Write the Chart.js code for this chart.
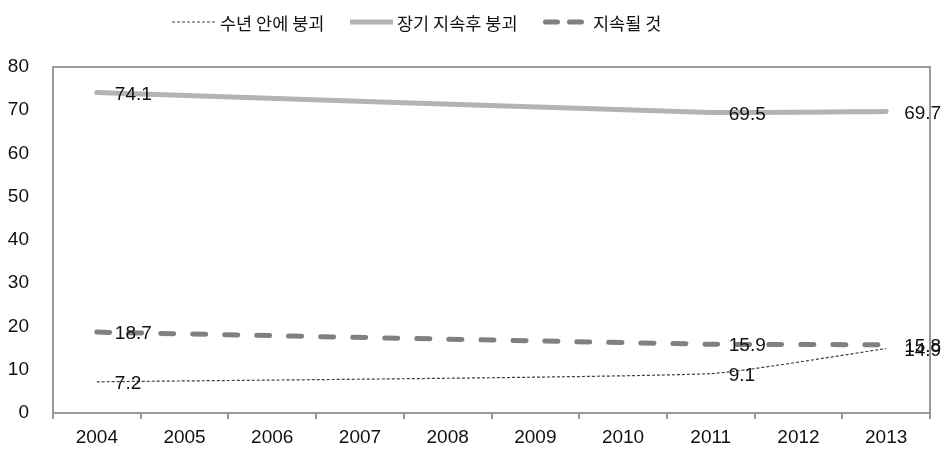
<!DOCTYPE html>
<html>
<head>
<meta charset="utf-8">
<script src="https://cdn.jsdelivr.net/npm/chart.js@4/dist/chart.umd.min.js"></script>
<style>
html,body{margin:0;padding:0;background:#fff;}
#wrap{width:942px;height:450px;position:relative;}
</style>
</head>
<body>
<div id="wrap"><canvas id="c"></canvas></div>
<script>
const years = ['2004','2005','2006','2007','2008','2009','2010','2011','2012','2013'];
const seriesNames = ['수년 안에 붕괴','장기 지속후 붕괴','지속될 것'];
const collapseSoon = [7.2, null, null, null, null, null, null, 9.1, null, 14.9];
const collapseLater = [74.1, null, null, null, null, null, null, 69.5, null, 69.7];
const persist = [18.7, null, null, null, null, null, null, 15.9, null, 15.8];
const yTicks = [0,10,20,30,40,50,60,70,80];

const FONT = "'Liberation Sans Narrow', 'Liberation Sans', Arial, sans-serif";
const KFONT = "'Noto Sans CJK KR', sans-serif";

const frame = {
  id:'frame',
  afterDraw(chart){
    const {ctx, chartArea:a} = chart;
    ctx.save();
    ctx.strokeStyle = '#999';
    ctx.lineWidth = 2;
    ctx.beginPath();
    ctx.moveTo(a.left, a.top); ctx.lineTo(a.right, a.top); ctx.lineTo(a.right, a.bottom);
    ctx.stroke();
    ctx.restore();
  }
};
const valueLabels = {
  id:'valueLabels',
  afterDatasetsDraw(chart){
    const ctx = chart.ctx;
    ctx.save();
    ctx.font = "19px " + FONT;
    ctx.fillStyle = '#111';
    ctx.textAlign = 'left';
    ctx.textBaseline = 'middle';
    chart.data.datasets.forEach((ds, i) => {
      const meta = chart.getDatasetMeta(i);
      meta.data.forEach((pt, j) => {
        const v = ds.data[j];
        if (v === null || v === undefined) return;
        ctx.fillText(v.toFixed(1), pt.x + 18, pt.y + 2);
      });
    });
    ctx.restore();
  }
};
// legend drawn from dataset styles
const legendPos = [{x:172, tx:220}, {x:350, tx:397}, {x:543, tx:593}];
const customLegend = {
  id:'customLegend',
  afterDraw(chart){
    const ctx = chart.ctx;
    const y = 22;
    chart.data.datasets.forEach((ds, i) => {
      const p = legendPos[i];
      ctx.save();
      ctx.strokeStyle = ds.borderColor;
      ctx.lineWidth = ds.borderWidth;
      if (i === 2) { ctx.setLineDash([12,12]); ctx.lineCap = 'round'; }
      else if (i === 0) { ctx.setLineDash([3,2]); }
      ctx.beginPath();
      const x0 = i === 2 ? p.x + 2.5 : p.x;
      const x1 = i === 2 ? p.x + 40 : p.x + 43;
      ctx.moveTo(x0, y); ctx.lineTo(x1, y);
      ctx.stroke();
      ctx.restore();
      ctx.save();
      ctx.font = "17.5px " + KFONT;
      ctx.fillStyle = '#111';
      ctx.textAlign = 'left';
      ctx.textBaseline = 'middle';
      ctx.fillText(ds.label, p.tx, y + 1);
      ctx.restore();
    });
  }
};

new Chart(document.getElementById('c'), {
  type:'line',
  data:{
    labels: years,
    datasets:[
      {label: seriesNames[0], data: collapseSoon, borderColor:'#404040', borderWidth:1.2, borderDash:[3,2], pointRadius:0, spanGaps:true, tension:0.15, fill:false},
      {label: seriesNames[1], data: collapseLater, borderColor:'#b3b3b3', borderWidth:5, borderCapStyle:'round', pointRadius:0, spanGaps:true, tension:0.15, fill:false},
      {label: seriesNames[2], data: persist, borderColor:'#808080', borderWidth:5, borderDash:[13,19], borderCapStyle:'round', pointRadius:0, spanGaps:true, tension:0.15, fill:false}
    ]
  },
  options:{
    responsive:true,
    maintainAspectRatio:false,
    animation:false,
    layout:{padding:{left:0, right:12, top:67, bottom:0}},
    plugins:{
      tooltip:{enabled:false},
      legend:{display:false}
    },
    scales:{
      x:{
        offset:true,
        afterFit(axis){ axis.height = 37; },
        grid:{display:true, drawOnChartArea:false, drawTicks:true, tickLength:6, color:'#999', lineWidth:2, offset:true},
        border:{display:true, color:'#999', width:2},
        ticks:{color:'#111', font:{family:FONT, size:19}, padding:7, maxRotation:0}
      },
      y:{
        min:0, max:80,
        afterBuildTicks(axis){ axis.ticks = yTicks.map(v => ({value:v})); },
        afterFit(axis){ axis.width = 53; },
        grid:{display:false, drawTicks:false},
        border:{display:true, color:'#999', width:2},
        ticks:{color:'#111', font:{family:FONT, size:19}, padding:24}
      }
    }
  },
  plugins:[frame, valueLabels, customLegend]
});
</script>
</body>
</html>
